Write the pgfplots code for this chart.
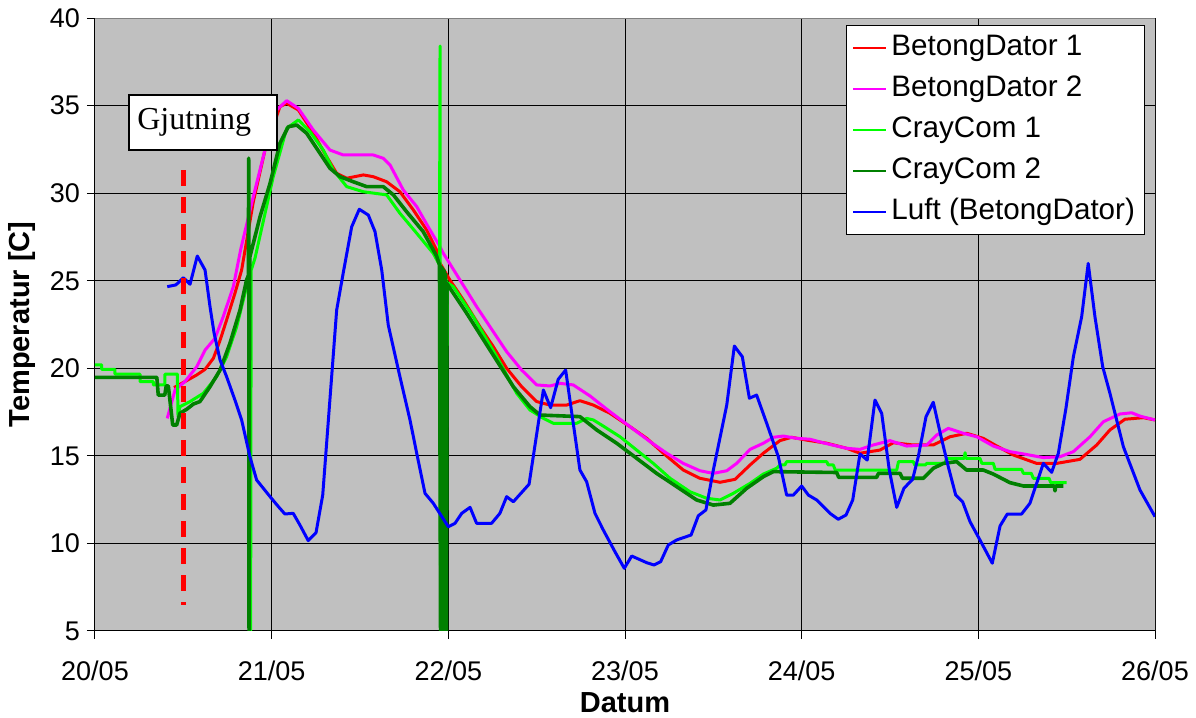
\documentclass[border=0pt]{standalone}
\usepackage{fontspec}
\setmainfont{Liberation Sans}
\newfontfamily\timesfont{Liberation Serif}
\usepackage{pgfplots}
\pgfplotsset{compat=1.18}
\definecolor{bg}{HTML}{C0C0C0}
\definecolor{dgreen}{HTML}{008000}
\definecolor{limeg}{HTML}{00FF00}
\definecolor{magt}{HTML}{FF00FF}
\definecolor{redd}{HTML}{FF0000}
\definecolor{bluu}{HTML}{0000FF}
\begin{document}
\begin{tikzpicture}
\useasboundingbox (-47.5pt,-43.5pt) rectangle (550.5pt,315.5pt);
\begin{axis}[
  at={(0,0)}, anchor=south west,
  scale only axis, width=530pt, height=306.5pt,
  xmin=0, xmax=6, ymin=5, ymax=40,
  xtick={0,1,2,3,4,5,6},
  xticklabels={20/05,21/05,22/05,23/05,24/05,25/05,26/05},
  ytick={5,10,15,20,25,30,35,40},
  axis background/.style={fill=bg},
  grid=major, major grid style={black, line width=0.5pt},
  axis x line*=bottom, axis y line*=left,
  axis line style={black, line width=0.5pt, -},
  tick align=outside, major tick length=4pt,
  tick style={black, line width=0.5pt},
  /pgf/number format/assume math mode=true,
  tick label style={font=\fontsize{13.5}{16}\selectfont},
  xticklabel style={yshift=-7.5pt},
  xlabel={Datum}, ylabel={Temperatur [C]},
  label style={font=\bfseries\fontsize{14.5}{17}\selectfont},
  xlabel style={at={(axis description cs:0.5,-0.1165)}, anchor=center, text depth=0pt, inner sep=1pt},
  ylabel style={at={(axis description cs:-0.0684,0.5)}, anchor=center},
  legend style={at={(rel axis cs:0.991,0.9886)}, anchor=north east,
    draw=black, line width=0.5pt, fill=white,
    font=\fontsize{14.8}{17}\selectfont,
    inner xsep=3pt, inner ysep=1pt, row sep=0pt,
    nodes={inner ysep=3.45pt, text height=10.6pt, text depth=3pt}},
  legend cell align=left,
  legend image code/.code={\draw[#1, line width=1.2pt] (0pt,0pt) -- (16.5pt,0pt);},
  every axis plot/.append style={line join=round},
]
% BetongDator 1
\addplot[redd, line width=1.5pt] coordinates {
(0.447,18.9) (0.509,19.24) (0.576,19.62) (0.623,19.94) (0.670,20.57) (0.708,21.6)
(0.745,22.76) (0.792,24.28) (0.830,25.61) (0.896,29.5) (0.962,32.46) (1.047,34.94)
(1.085,35.13) (1.151,34.75) (1.236,33.42) (1.311,32.08) (1.368,31.13) (1.425,30.85)
(1.519,31.04) (1.575,30.94) (1.651,30.65) (1.726,30.08) (1.802,29.04) (1.877,27.9)
(1.934,26.75) (1.953,26.0) (2.009,25.04) (2.085,23.9) (2.179,22.37) (2.255,21.23)
(2.330,20.0) (2.415,18.95) (2.500,18.1) (2.575,17.9) (2.670,17.9) (2.745,18.15)
(2.821,17.9) (2.915,17.43) (3.028,16.67) (3.123,16.0) (3.217,15.15) (3.330,14.19)
(3.424,13.72) (3.538,13.49) (3.623,13.66) (3.708,14.48) (3.783,15.15) (3.877,15.87)
(3.943,16.06) (4.028,15.9) (4.142,15.72) (4.255,15.43) (4.330,15.15) (4.443,15.33)
(4.519,15.75) (4.632,15.62) (4.745,15.62) (4.840,16.09) (4.934,16.29) (5.028,16.0)
(5.094,15.62) (5.198,15.05) (5.330,14.57) (5.443,14.57) (5.575,14.8) (5.670,15.62)
(5.745,16.48) (5.830,17.09) (5.934,17.18) (6.0,17.05)
};
\addlegendentry{BetongDator 1}
% BetongDator 2
\addplot[magt, line width=1.5pt] coordinates {
(0.409,17.14) (0.453,18.76) (0.509,19.24) (0.576,20.09) (0.623,21.04) (0.679,21.71)
(0.726,22.95) (0.783,24.66) (0.825,26.8) (0.896,29.8) (0.962,32.46) (1.028,34.75)
(1.085,35.28) (1.151,34.84) (1.236,33.6) (1.330,32.46) (1.405,32.18) (1.575,32.18)
(1.632,31.99) (1.670,31.61) (1.745,30.18) (1.821,29.23) (1.896,27.9) (1.953,26.94)
(1.972,26.56) (2.066,25.04) (2.160,23.52) (2.236,22.37) (2.330,20.95) (2.415,19.9)
(2.500,19.05) (2.575,18.99) (2.632,19.14) (2.707,19.05) (2.802,18.42) (2.915,17.52)
(3.028,16.67) (3.142,15.81) (3.236,15.15) (3.330,14.57) (3.424,14.15) (3.500,14.0)
(3.576,14.15) (3.632,14.57) (3.708,15.37) (3.783,15.72) (3.840,16.06) (3.896,16.13)
(3.972,16.0) (4.047,15.95) (4.132,15.72) (4.255,15.43) (4.330,15.37) (4.405,15.62)
(4.500,15.87) (4.594,15.56) (4.708,15.62) (4.764,16.19) (4.830,16.57) (4.915,16.29)
(4.991,16.09) (5.085,15.56) (5.179,15.24) (5.255,15.11) (5.368,14.9) (5.462,14.95)
(5.538,15.24) (5.632,16.09) (5.708,16.95) (5.802,17.39) (5.868,17.46) (5.915,17.27)
(6.0,17.05)
};
\addlegendentry{BetongDator 2}
% CrayCom 1
\addplot[limeg, line width=1.5pt] coordinates {
(0,20.19) (0.038,20.19) (0.038,19.94) (0.113,19.94) (0.113,19.67) (0.255,19.67)
(0.255,19.24) (0.330,19.24) (0.330,19.05) (0.396,19.05) (0.396,19.67) (0.466,19.67)
(0.470,17.24) (0.481,17.81) (0.538,18.1) (0.613,18.57) (0.689,19.52) (0.745,20.66)
(0.802,22.37) (0.858,24.66) (0.879,25.4) (0.881,5) (0.884,25.6) (0.906,26.3)
(1.009,30.94) (1.085,33.7) (1.151,34.18) (1.217,33.51) (1.292,32.46) (1.349,31.32)
(1.425,30.37) (1.519,30.08) (1.651,29.9) (1.726,28.85) (1.821,27.71) (1.915,26.56)
(1.950,25.9) (1.953,38.4) (1.956,5) (1.959,25.8) (1.988,25.0) (1.990,5) (1.993,24.9)
(2.028,24.66) (2.141,22.95) (2.274,20.66) (2.387,18.57) (2.462,17.62) (2.538,17.14)
(2.594,16.86) (2.726,16.86) (2.783,17.14) (2.821,17.05) (2.877,16.7) (2.972,16.09)
(3.066,15.33) (3.160,14.57) (3.255,13.72) (3.368,12.95) (3.462,12.58) (3.538,12.48)
(3.613,12.86) (3.708,13.43) (3.783,13.96) (3.858,14.29) (3.877,14.48) (3.905,14.48)
(3.915,14.67) (4.142,14.67) (4.150,14.48) (4.179,14.48) (4.190,14.19) (4.538,14.19)
(4.548,14.67) (4.632,14.67) (4.640,14.48) (4.700,14.48) (4.708,14.57) (4.810,14.57)
(4.821,14.86) (4.920,14.86) (4.925,15.18) (4.930,14.86) (5.009,14.86) (5.020,14.57)
(5.085,14.57) (5.095,14.23) (5.245,14.23) (5.255,14.0) (5.300,14.0) (5.311,13.72)
(5.400,13.72) (5.410,13.47) (5.500,13.47)
};
\addlegendentry{CrayCom 1}
% CrayCom 2
\addplot[dgreen, line width=1.8pt] coordinates {
(0,19.48) (0.350,19.48) (0.358,18.47) (0.395,18.47) (0.403,18.99) (0.415,18.99)
(0.440,16.76) (0.462,16.76) (0.481,17.43) (0.519,17.66) (0.557,17.96) (0.594,18.1)
(0.651,18.95) (0.708,19.9) (0.764,21.43) (0.821,23.33) (0.858,25.04) (0.868,25.3)
(0.870,32.0) (0.872,5) (0.875,25.6) (0.877,26.37) (0.934,28.65) (0.991,30.56)
(1.047,32.85) (1.094,33.79) (1.142,33.89) (1.198,33.42) (1.274,32.27) (1.330,31.42)
(1.387,30.94) (1.462,30.65) (1.538,30.37) (1.632,30.37) (1.689,29.9) (1.764,28.94)
(1.858,27.8) (1.934,26.4) (1.950,25.9) (1.956,5) (1.960,25.8) (1.964,5) (1.968,25.7)
(1.972,5) (1.976,25.6) (1.980,5) (1.984,25.4) (1.987,5) (1.991,24.85) (2.104,23.14)
(2.236,21.04) (2.368,18.95) (2.462,17.81) (2.519,17.33) (2.745,17.24) (2.840,16.48)
(2.953,15.72) (3.066,14.86) (3.179,14.0) (3.293,13.24) (3.406,12.48) (3.500,12.19)
(3.594,12.29) (3.689,13.15) (3.783,13.81) (3.840,14.1) (4.198,14.05) (4.210,13.77)
(4.424,13.77) (4.435,14.0) (4.557,14.0) (4.570,13.72) (4.689,13.72) (4.745,14.29)
(4.802,14.57) (4.877,14.67) (4.934,14.19) (5.028,14.19) (5.085,13.96) (5.179,13.47)
(5.255,13.28) (5.430,13.28) (5.434,13.0) (5.438,13.28) (5.481,13.28)
};
\addlegendentry{CrayCom 2}
% Luft
\addplot[bluu, line width=1.5pt] coordinates {
(0.409,24.66) (0.458,24.76) (0.500,25.17) (0.538,24.8) (0.579,26.41) (0.623,25.61)
(0.651,23.52) (0.674,22.01) (0.708,20.47) (0.745,19.52) (0.792,18.19) (0.830,17.05)
(0.877,14.95) (0.915,13.62) (0.991,12.67) (1.038,12.10) (1.075,11.68) (1.122,11.72)
(1.160,11.05) (1.207,10.16) (1.251,10.61) (1.289,12.76) (1.368,23.33) (1.405,25.44)
(1.453,28.08) (1.496,29.08) (1.547,28.75) (1.585,27.8) (1.623,25.61) (1.660,22.47)
(1.726,19.52) (1.783,17.05) (1.821,15.15) (1.868,12.86) (1.915,12.29) (2.000,10.95)
(2.038,11.15) (2.076,11.72) (2.123,12.06) (2.160,11.15) (2.245,11.15) (2.292,11.72)
(2.330,12.67) (2.368,12.38) (2.457,13.38) (2.538,18.76) (2.579,17.75) (2.622,19.37)
(2.664,19.9) (2.707,16.86) (2.745,14.19) (2.783,13.52) (2.830,11.72) (2.877,10.77)
(2.943,9.53) (2.996,8.58) (3.038,9.28) (3.123,8.9) (3.164,8.77) (3.202,8.96)
(3.245,9.91) (3.293,10.2) (3.374,10.48) (3.415,11.58) (3.458,11.91) (3.500,14.19)
(3.576,17.9) (3.619,21.27) (3.664,20.66) (3.704,18.29) (3.745,18.47) (3.802,16.86)
(3.868,14.95) (3.915,12.76) (3.953,12.76) (4.000,13.28) (4.038,12.76) (4.085,12.48)
(4.160,11.72) (4.207,11.38) (4.251,11.62) (4.289,12.48) (4.330,15.11) (4.371,14.76)
(4.415,18.19) (4.453,17.43) (4.496,14.19) (4.538,12.06) (4.579,13.15) (4.628,13.66)
(4.660,14.95) (4.704,17.24) (4.745,18.06) (4.789,16.09) (4.830,14.38) (4.872,12.76)
(4.911,12.38) (4.953,11.24) (5.009,10.2) (5.079,8.87) (5.123,11.0) (5.164,11.68)
(5.245,11.68) (5.292,12.29) (5.368,14.57) (5.415,14.06) (5.453,15.15) (5.496,17.72)
(5.538,20.66) (5.585,22.95) (5.622,25.99) (5.660,22.95) (5.704,20.09) (5.745,18.57)
(5.821,15.52) (5.915,13.05) (6.0,11.53)
};
\addlegendentry{Luft (BetongDator)}
% Gjutning marker
\addplot[redd, line width=2.2pt, dash pattern=on 8pt off 5.5pt, forget plot] coordinates {(0.5,31.3) (0.5,6.5)};
\node[draw=black, line width=1pt, fill=white, anchor=north west,
  minimum height=27.5pt, text width=66pt, align=left, inner xsep=4pt,
  font=\timesfont\fontsize{16}{18}\selectfont] at (axis cs:0.1885,35.66) {Gjutning};
\draw[black!50, line width=0.5pt] (rel axis cs:0,1) -- (rel axis cs:1,1) -- (rel axis cs:1,0);
\end{axis}
\end{tikzpicture}
\end{document}
